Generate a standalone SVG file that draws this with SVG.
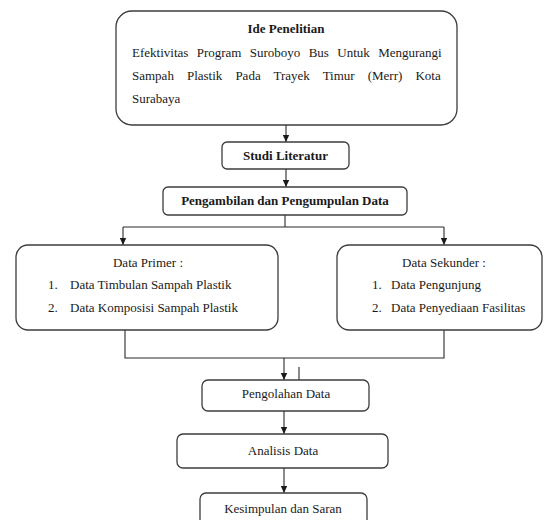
<svg xmlns="http://www.w3.org/2000/svg" width="544" height="520" viewBox="0 0 544 520">
<style>
.box{fill:#fff;stroke:#3c3c3c;stroke-width:1.3}
.t{font-family:"Liberation Serif","Times New Roman",serif;font-size:13px;fill:#1a1a1a}
.b{font-weight:bold}
.c{text-anchor:middle}
.ln{fill:none;stroke:#2a2a2a;stroke-width:1.1}
</style>
<defs>
<marker id="ah" markerWidth="8" markerHeight="8" refX="7" refY="4" orient="auto" markerUnits="userSpaceOnUse">
<path d="M0,0.8 L7,4 L0,7.2 Z" fill="#1a1a1a"/>
</marker>
</defs>
<rect width="544" height="520" fill="#fff"/>
<g id="connectors">
<line class="ln" x1="286" y1="125" x2="286" y2="142" marker-end="url(#ah)"/>
<line class="ln" x1="286" y1="169" x2="286" y2="187" marker-end="url(#ah)"/>
<polyline class="ln" points="285,215 285,227"/>
<polyline class="ln" points="123,227 444,227"/>
<line class="ln" x1="123" y1="227" x2="123" y2="245" marker-end="url(#ah)"/>
<line class="ln" x1="444" y1="227" x2="444" y2="245" marker-end="url(#ah)"/>
<polyline class="ln" points="125,330 125,358 444,358 444,330"/>
<line class="ln" x1="284" y1="358" x2="284" y2="380" marker-end="url(#ah)"/>
<line class="ln" x1="299" y1="367" x2="299" y2="380"/>
<line class="ln" x1="284" y1="411" x2="284" y2="434" marker-end="url(#ah)"/>
<line class="ln" x1="284" y1="468" x2="284" y2="493" marker-end="url(#ah)"/>
</g>
<g id="ide">
<rect class="box" x="116" y="11" width="341" height="114" rx="16"/>
<text class="t b c" x="286" y="33">Ide Penelitian</text>
<text class="t" x="132" y="56.5" word-spacing="5.1">Efektivitas Program Suroboyo Bus Untuk Mengurangi</text>
<text class="t" x="132" y="79.5" word-spacing="9.8">Sampah Plastik Pada Trayek Timur (Merr) Kota</text>
<text class="t" x="132" y="102.5">Surabaya</text>
</g>
<g id="studi">
<rect class="box" x="222" y="142" width="127" height="27" rx="5"/>
<text class="t b c" x="285.5" y="159.5">Studi Literatur</text>
</g>
<g id="pengambilan">
<rect class="box" x="163" y="187" width="244" height="28" rx="5"/>
<text class="t b c" x="285" y="204.5">Pengambilan dan Pengumpulan Data</text>
</g>
<g id="primer">
<rect class="box" x="16" y="245" width="262" height="85" rx="12"/>
<text class="t c" x="148" y="266.5">Data Primer :</text>
<text class="t" x="48" y="289">1.</text>
<text class="t" x="70" y="289">Data Timbulan Sampah Plastik</text>
<text class="t" x="48" y="312">2.</text>
<text class="t" x="70" y="312">Data Komposisi Sampah Plastik</text>
</g>
<g id="sekunder">
<rect class="box" x="337" y="245" width="205" height="85" rx="12"/>
<text class="t c" x="444" y="266.5">Data Sekunder :</text>
<text class="t" x="372" y="289">1.</text>
<text class="t" x="391" y="289">Data Pengunjung</text>
<text class="t" x="372" y="312">2.</text>
<text class="t" x="391" y="312">Data Penyediaan Fasilitas</text>
</g>
<g id="pengolahan">
<rect class="box" x="202" y="380" width="167" height="31" rx="6"/>
<text class="t c" x="286" y="397.5">Pengolahan Data</text>
</g>
<g id="analisis">
<rect class="box" x="177" y="434" width="211" height="34" rx="6"/>
<text class="t c" x="283" y="454.5">Analisis Data</text>
</g>
<g id="kesimpulan">
<rect class="box" x="200" y="493" width="167" height="32" rx="6"/>
<text class="t c" x="283" y="512.5">Kesimpulan dan Saran</text>
</g>
</svg>
